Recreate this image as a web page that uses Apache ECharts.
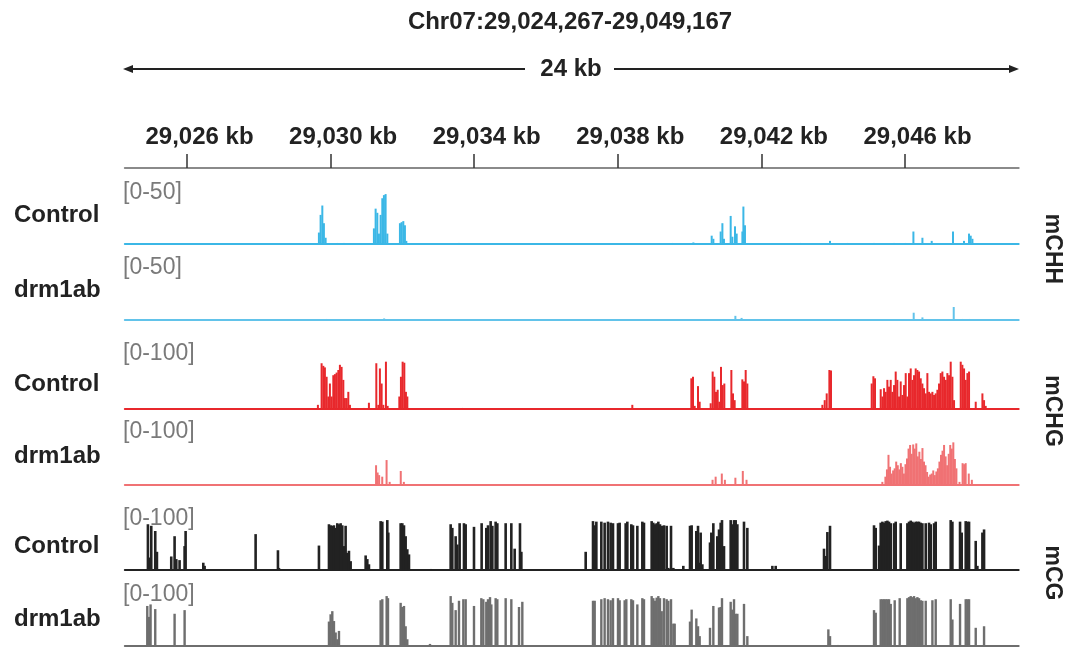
<!DOCTYPE html>
<html><head><meta charset="utf-8">
<script src="https://cdn.jsdelivr.net/npm/echarts@6/dist/echarts.min.js"></script>
<style>html,body{margin:0;padding:0;background:#fff}#c{width:1077px;height:647px}</style>
</head><body><div id="c"></div>
<script>
// genomic window (kb)
const regionStart = 29024.267, regionEnd = 29049.167;
const rulerTicks = [29026, 29030, 29034, 29038, 29042, 29046];
const sampleLabels = ['Control','drm1ab','Control','drm1ab','Control','drm1ab'];
const rangeLabels = ['[0-50]','[0-50]','[0-100]','[0-100]','[0-100]','[0-100]'];
const contextLabels = ['mCHH','mCHG','mCG'];

// [position kb, methylation level]
const chhControl = [
[29029.674,11],[29029.721,28],[29029.769,37],[29029.813,20],[29029.861,6],[29030.187,1],[29030.371,1],
[29031.206,15],[29031.254,34],[29031.301,30],[29031.346,10],[29031.393,28],[29031.440,44],[29031.485,47],[29031.532,48],[29031.580,10],
[29031.931,20],[29031.978,21],[29032.025,22],[29032.070,18],[29032.109,3],[29033.574,1],
[29039.520,1],[29040.105,1.5],[29040.615,8],[29040.662,5],[29040.865,12],[29040.913,20],[29040.957,5],[29041.144,27],[29041.191,7],[29041.264,17],[29041.311,10],[29041.470,12],[29041.498,36],[29041.542,18],
[29043.094,1],[29043.910,3],[29044.395,1],[29045.136,1],[29045.694,1],[29046.020,1],[29046.234,12],[29046.485,6],[29046.744,3],[29047.337,12],[29047.644,3],[29047.783,10],[29047.830,8],[29047.878,5]
];
const chhDrm = [
[29025.000,0.5],[29026.000,0.5],[29029.889,1],[29031.491,1.5],[29033.600,0.5],[29041.275,4],[29041.448,2],
[29046.242,7],[29046.485,2.5],[29047.357,12.5],[29047.607,1],[29047.803,1]
];
const chgControl = [
[29029.646,8],[29029.749,88],[29029.797,83],[29029.841,80],[29029.889,62],[29029.936,24],[29029.980,49],[29030.028,24],
[29030.075,65],[29030.120,67],[29030.167,70],[29030.215,75],[29030.259,85],[29030.306,81],[29030.354,56],[29030.398,21],
[29030.446,21],[29030.493,33],[29030.538,8],[29030.928,2],[29031.067,12],[29031.273,88],[29031.329,8],[29031.373,78],
[29031.421,49],[29031.468,8],[29031.541,91],[29031.588,6],[29031.914,24],[29031.959,62],[29032.006,91],[29032.053,89],
[29032.098,33],[29032.137,24],[29033.669,2],
[29037.782,1],[29038.404,8],[29040.048,59],[29040.094,62],[29040.141,6],[29040.234,44],[29040.280,14],[29040.587,11],
[29040.642,72],[29040.689,62],[29040.735,33],[29040.782,37],[29040.828,14],[29040.875,81],[29040.921,46],[29040.967,49],
[29041.163,75],[29041.209,30],[29041.255,17],[29041.469,57],[29041.515,53],[29041.562,75],[29041.608,49],
[29043.698,8],[29043.763,17],[29043.819,30],[29043.893,75],[29043.939,74],
[29045.072,49],[29045.119,63],[29045.165,59],[29045.323,38],[29045.370,24],[29045.416,40],[29045.462,33],[29045.509,56],
[29045.555,43],[29045.602,56],[29045.648,33],[29045.695,46],[29045.741,72],[29045.787,56],[29045.834,24],[29045.880,53],
[29045.927,27],[29045.973,46],[29046.020,69],[29046.066,24],[29046.112,69],[29046.159,78],[29046.205,56],[29046.252,65],
[29046.298,78],[29046.345,75],[29046.391,72],[29046.438,59],[29046.484,49],[29046.530,40],[29046.577,30],[29046.623,69],
[29046.670,33],[29046.716,30],[29046.763,33],[29046.809,27],[29046.855,30],[29046.902,37],[29046.948,49],[29046.995,69],
[29047.041,72],[29047.088,62],[29047.134,56],[29047.180,69],[29047.227,65],[29047.273,91],[29047.320,62],[29047.366,17],
[29047.552,91],[29047.598,85],[29047.645,78],[29047.691,56],[29047.738,69],[29047.784,72],[29047.970,14],[29048.156,30],
[29048.202,17],[29048.248,6]
];
const chgDrm = [
[29024.903,1],[29025.247,1],[29026.193,1],[29029.890,1],
[29031.266,38],[29031.309,24],[29031.352,19],[29031.438,16],[29031.559,48],[29031.645,6],[29031.954,27],[29032.040,6],
[29040.639,10],[29040.725,16],[29040.897,22],[29040.983,10],[29041.275,14],[29041.482,27],[29041.585,10],[29043.907,1],
[29045.369,6],[29045.454,16],[29045.497,30],[29045.540,58],[29045.583,35],[29045.626,22],[29045.669,28],[29045.712,32],
[29045.755,45],[29045.798,38],[29045.841,30],[29045.884,42],[29045.927,35],[29045.970,22],[29046.013,40],[29046.056,51],
[29046.099,70],[29046.142,77],[29046.185,60],[29046.228,78],[29046.271,70],[29046.314,80],[29046.357,55],[29046.400,64],
[29046.443,50],[29046.486,71],[29046.529,45],[29046.572,38],[29046.615,25],[29046.658,16],[29046.701,20],[29046.744,22],
[29046.787,28],[29046.830,19],[29046.873,26],[29046.916,32],[29046.959,45],[29047.002,58],[29047.045,66],[29047.088,77],
[29047.131,55],[29047.174,38],[29047.217,60],[29047.260,77],[29047.303,70],[29047.346,82],[29047.389,50],[29047.432,32],
[29047.518,6],[29047.604,42],[29047.647,40],[29047.690,42],[29047.776,22],[29047.862,10]
];
const cgControl = [
[29024.911,88],[29024.958,24],[29025.004,85],[29025.115,75],[29025.162,35],[29025.561,26],[29025.654,65],[29025.701,21],
[29025.793,19],[29025.933,46],[29025.961,75],[29026.453,14],[29026.490,8],[29027.911,69],[29028.533,38],[29028.561,4],
[29029.675,47],[29029.954,88],[29030.000,86],[29030.047,85],[29030.093,86],[29030.140,81],[29030.186,90],[29030.233,88],
[29030.279,90],[29030.325,86],[29030.372,46],[29030.418,85],[29030.465,33],[29030.511,37],[29030.558,17],[29030.976,28],
[29031.022,21],[29031.068,11],[29031.393,94],[29031.440,93],[29031.579,96],[29031.607,72],[29031.951,90],[29031.997,90],
[29032.044,86],[29032.090,65],[29032.136,40],[29032.183,30],[29032.787,2],[29033.344,88],[29033.390,81],[29033.483,65],
[29033.529,49],[29033.594,90],[29033.715,90],[29033.762,88],[29033.994,83],[29034.207,90],[29034.337,81],[29034.384,86],
[29034.458,94],[29034.505,85],[29034.597,93],[29034.644,90],[29034.876,90],[29035.034,90],[29035.127,41],[29035.275,90],
[29035.313,35],[29037.105,35],[29037.309,94],[29037.356,86],[29037.402,93],
[29037.541,93],[29037.633,91],[29037.726,93],[29037.801,91],[29037.866,90],[29038.005,90],[29038.051,91],[29038.219,90],
[29038.265,93],[29038.376,88],[29038.423,86],[29038.544,85],[29038.683,93],[29038.729,91],[29038.943,94],[29038.989,91],
[29039.036,88],[29039.082,90],[29039.129,93],[29039.175,88],[29039.222,85],[29039.287,86],[29039.361,85],[29039.407,4],
[29039.482,85],[29039.547,4],[29039.825,8],[29040.011,85],[29040.057,86],[29040.187,75],[29040.234,85],[29040.280,14],
[29040.308,72],[29040.355,11],[29040.568,53],[29040.605,72],[29040.661,90],[29040.772,65],[29040.819,78],[29040.865,91],
[29040.902,96],[29040.958,46],[29041.144,96],[29041.190,88],[29041.237,96],[29041.283,96],[29041.330,88],[29041.515,93],
[29041.608,81],[29042.305,8],[29042.398,8],[29043.744,41],[29043.791,27],[29043.837,73],[29043.911,85],
[29045.137,86],[29045.184,81],[29045.277,47],[29045.323,91],[29045.370,93],[29045.416,91],[29045.462,94],[29045.509,95],
[29045.555,93],[29045.602,90],[29045.695,90],[29045.741,93],[29045.880,90],[29046.066,90],[29046.112,93],[29046.159,95],
[29046.205,93],[29046.252,91],[29046.298,93],[29046.345,93],[29046.391,93],[29046.438,91],[29046.484,90],[29046.577,90],
[29046.670,91],[29046.716,88],[29046.809,90],[29046.855,93],[29047.273,96],[29047.320,93],[29047.533,93],[29047.580,72],
[29047.691,94],[29047.738,93],[29047.784,93],[29047.970,56],[29048.016,8],[29048.156,72],[29048.202,78]
];
const cgDrm = [
[29024.893,77],[29024.939,56],[29024.985,80],[29025.115,71],[29025.654,62],[29025.933,69],
[29029.954,47],[29030.000,61],[29030.047,67],[29030.093,48],[29030.140,26],[29030.186,13],[29030.233,29],
[29031.393,88],[29031.440,90],[29031.561,96],[29031.598,92],[29031.951,83],[29031.997,75],[29032.044,77],[29032.090,38],
[29032.136,13],[29032.768,4],[29033.344,96],[29033.390,83],[29033.483,69],[29033.576,87],[29033.697,90],[29033.762,90],
[29033.994,77],[29034.198,92],[29034.254,90],[29034.337,85],[29034.384,90],[29034.440,94],[29034.477,80],[29034.597,92],
[29034.644,90],[29034.876,92],[29035.034,90],[29035.248,75],[29035.340,85],[29037.309,87],[29037.356,87],
[29037.541,90],[29037.633,92],[29037.726,90],[29037.801,88],[29037.866,92],[29038.005,92],[29038.051,88],[29038.191,88],
[29038.237,90],[29038.376,90],[29038.423,88],[29038.544,80],[29038.683,92],[29038.729,90],[29038.943,96],[29038.989,92],
[29039.036,87],[29039.082,93],[29039.129,96],[29039.175,92],[29039.222,67],[29039.287,92],[29039.361,90],[29039.407,87],
[29039.482,90],[29039.547,43],[29039.584,43],[29040.011,47],[29040.057,70],[29040.187,53],[29040.234,38],[29040.280,19],
[29040.568,35],[29040.661,77],[29040.819,74],[29040.865,75],[29040.902,92],[29041.144,85],[29041.190,70],[29041.237,90],
[29041.283,62],[29041.330,62],[29041.515,81],[29041.608,19],[29043.865,32],[29043.911,19],[29044.134,2],
[29045.137,69],[29045.184,64],[29045.323,90],[29045.370,90],[29045.416,90],[29045.462,90],[29045.509,90],[29045.555,90],
[29045.602,81],[29045.713,88],[29045.852,92],[29046.066,92],[29046.112,94],[29046.159,96],[29046.205,94],[29046.252,96],
[29046.298,92],[29046.345,94],[29046.391,92],[29046.438,88],[29046.484,87],[29046.577,87],[29046.763,88],[29046.855,90],
[29047.273,90],[29047.320,51],[29047.533,81],[29047.691,90],[29047.738,90],[29047.784,90],[29047.970,35],[29048.202,38]
];

const trackData = [chhControl, chhDrm, chgControl, chgDrm, cgControl, cgDrm];
const trackMax = [50, 50, 100, 100, 100, 100];
const trackColors = ['#3bb7e6', '#62c3ea', '#e8282c', '#f07274', '#222222', '#6e6e6e'];
const barWidths = [2, 2, 2, 2, 2.6, 2.4];
const baselines = [244, 320, 409, 485, 570, 646];
const TRACK_H = 52, LEFT = 124.8, RIGHT = 58.3;
const FONT = '"Liberation Sans", Arial, Helvetica, sans-serif';

const fmtKb = v => String(Math.round(v)).replace(/\B(?=(\d{3})+(?!\d))/g, ',') + ' kb';

const grids = [{left: LEFT, right: RIGHT, top: 168, height: 1}];
const xAxes = [{
  type: 'value', gridIndex: 0, min: regionStart, max: regionEnd, position: 'top',
  axisLine: {show: true, onZero: false, lineStyle: {color: '#8a8a8a', width: 2}},
  axisTick: {show: true, inside: false, length: 14, lineStyle: {color: '#333', width: 1.5}, customValues: rulerTicks},
  axisLabel: {show: true, margin: 19, color: '#222', fontWeight: 'bold', fontSize: 24, fontFamily: FONT,
    padding: [0, 0, 0, 25], customValues: rulerTicks, formatter: fmtKb},
  splitLine: {show: false}
}];
const yAxes = [{type: 'value', gridIndex: 0, show: false, min: 0, max: 1}];
const series = [];
trackData.forEach((d, i) => {
  const gi = i + 1;
  grids.push({left: LEFT, right: RIGHT, top: baselines[i] - TRACK_H, height: TRACK_H});
  xAxes.push({type: 'value', gridIndex: gi, min: regionStart, max: regionEnd,
    axisLine: {show: true, onZero: false, lineStyle: {color: trackColors[i], width: 2}},
    axisTick: {show: false}, axisLabel: {show: false}, splitLine: {show: false}});
  yAxes.push({type: 'value', gridIndex: gi, min: 0, max: trackMax[i], show: false, splitLine: {show: false}});
  series.push({type: 'bar', xAxisIndex: gi, yAxisIndex: gi, data: d, barWidth: barWidths[i],
    itemStyle: {color: trackColors[i]}, silent: true, animation: false, z: 2});
});

const graphic = [];
graphic.push({type: 'text', x: 570, y: 22, style: {text: 'Chr07:29,024,267-29,049,167', fill: '#222',
  font: 'bold 24px ' + FONT, align: 'center', verticalAlign: 'middle'}});
// scale arrow
const arrowY = 69;
graphic.push({type: 'line', shape: {x1: 126, y1: arrowY, x2: 525, y2: arrowY}, style: {stroke: '#222', lineWidth: 2}});
graphic.push({type: 'line', shape: {x1: 614, y1: arrowY, x2: 1016, y2: arrowY}, style: {stroke: '#222', lineWidth: 2}});
graphic.push({type: 'polygon', shape: {points: [[123, arrowY], [133, arrowY - 4], [133, arrowY + 4]]}, style: {fill: '#222'}});
graphic.push({type: 'polygon', shape: {points: [[1019, arrowY], [1009, arrowY - 4], [1009, arrowY + 4]]}, style: {fill: '#222'}});
graphic.push({type: 'text', x: 571, y: arrowY, style: {text: '24 kb', fill: '#222', font: 'bold 24px ' + FONT, align: 'center', verticalAlign: 'middle'}});
const sampleY = [215, 290, 384, 456, 546, 619];
const rangeY = [193, 268, 354, 432, 519, 595];
sampleLabels.forEach((t, i) => {
  graphic.push({type: 'text', x: 14, y: sampleY[i], style: {text: t, fill: '#222', font: 'bold 24px ' + FONT, verticalAlign: 'middle'}});
  graphic.push({type: 'text', x: 123, y: rangeY[i], z: 10, style: {text: rangeLabels[i], fill: '#7a7a7a', font: '23px ' + FONT, verticalAlign: 'middle'}});
});
const ctxY = [249, 411, 573];
contextLabels.forEach((t, i) => {
  graphic.push({type: 'text', x: 1052, y: ctxY[i], rotation: -Math.PI / 2,
    style: {text: t, fill: '#222', font: 'bold 23px ' + FONT, align: 'center', verticalAlign: 'middle'}});
});

const chart = echarts.init(document.getElementById('c'), null, {renderer: 'canvas'});
chart.setOption({
  animation: false,
  backgroundColor: '#fff',
  grid: grids, xAxis: xAxes, yAxis: yAxes, series: series, graphic: graphic
});
</script></body></html>
